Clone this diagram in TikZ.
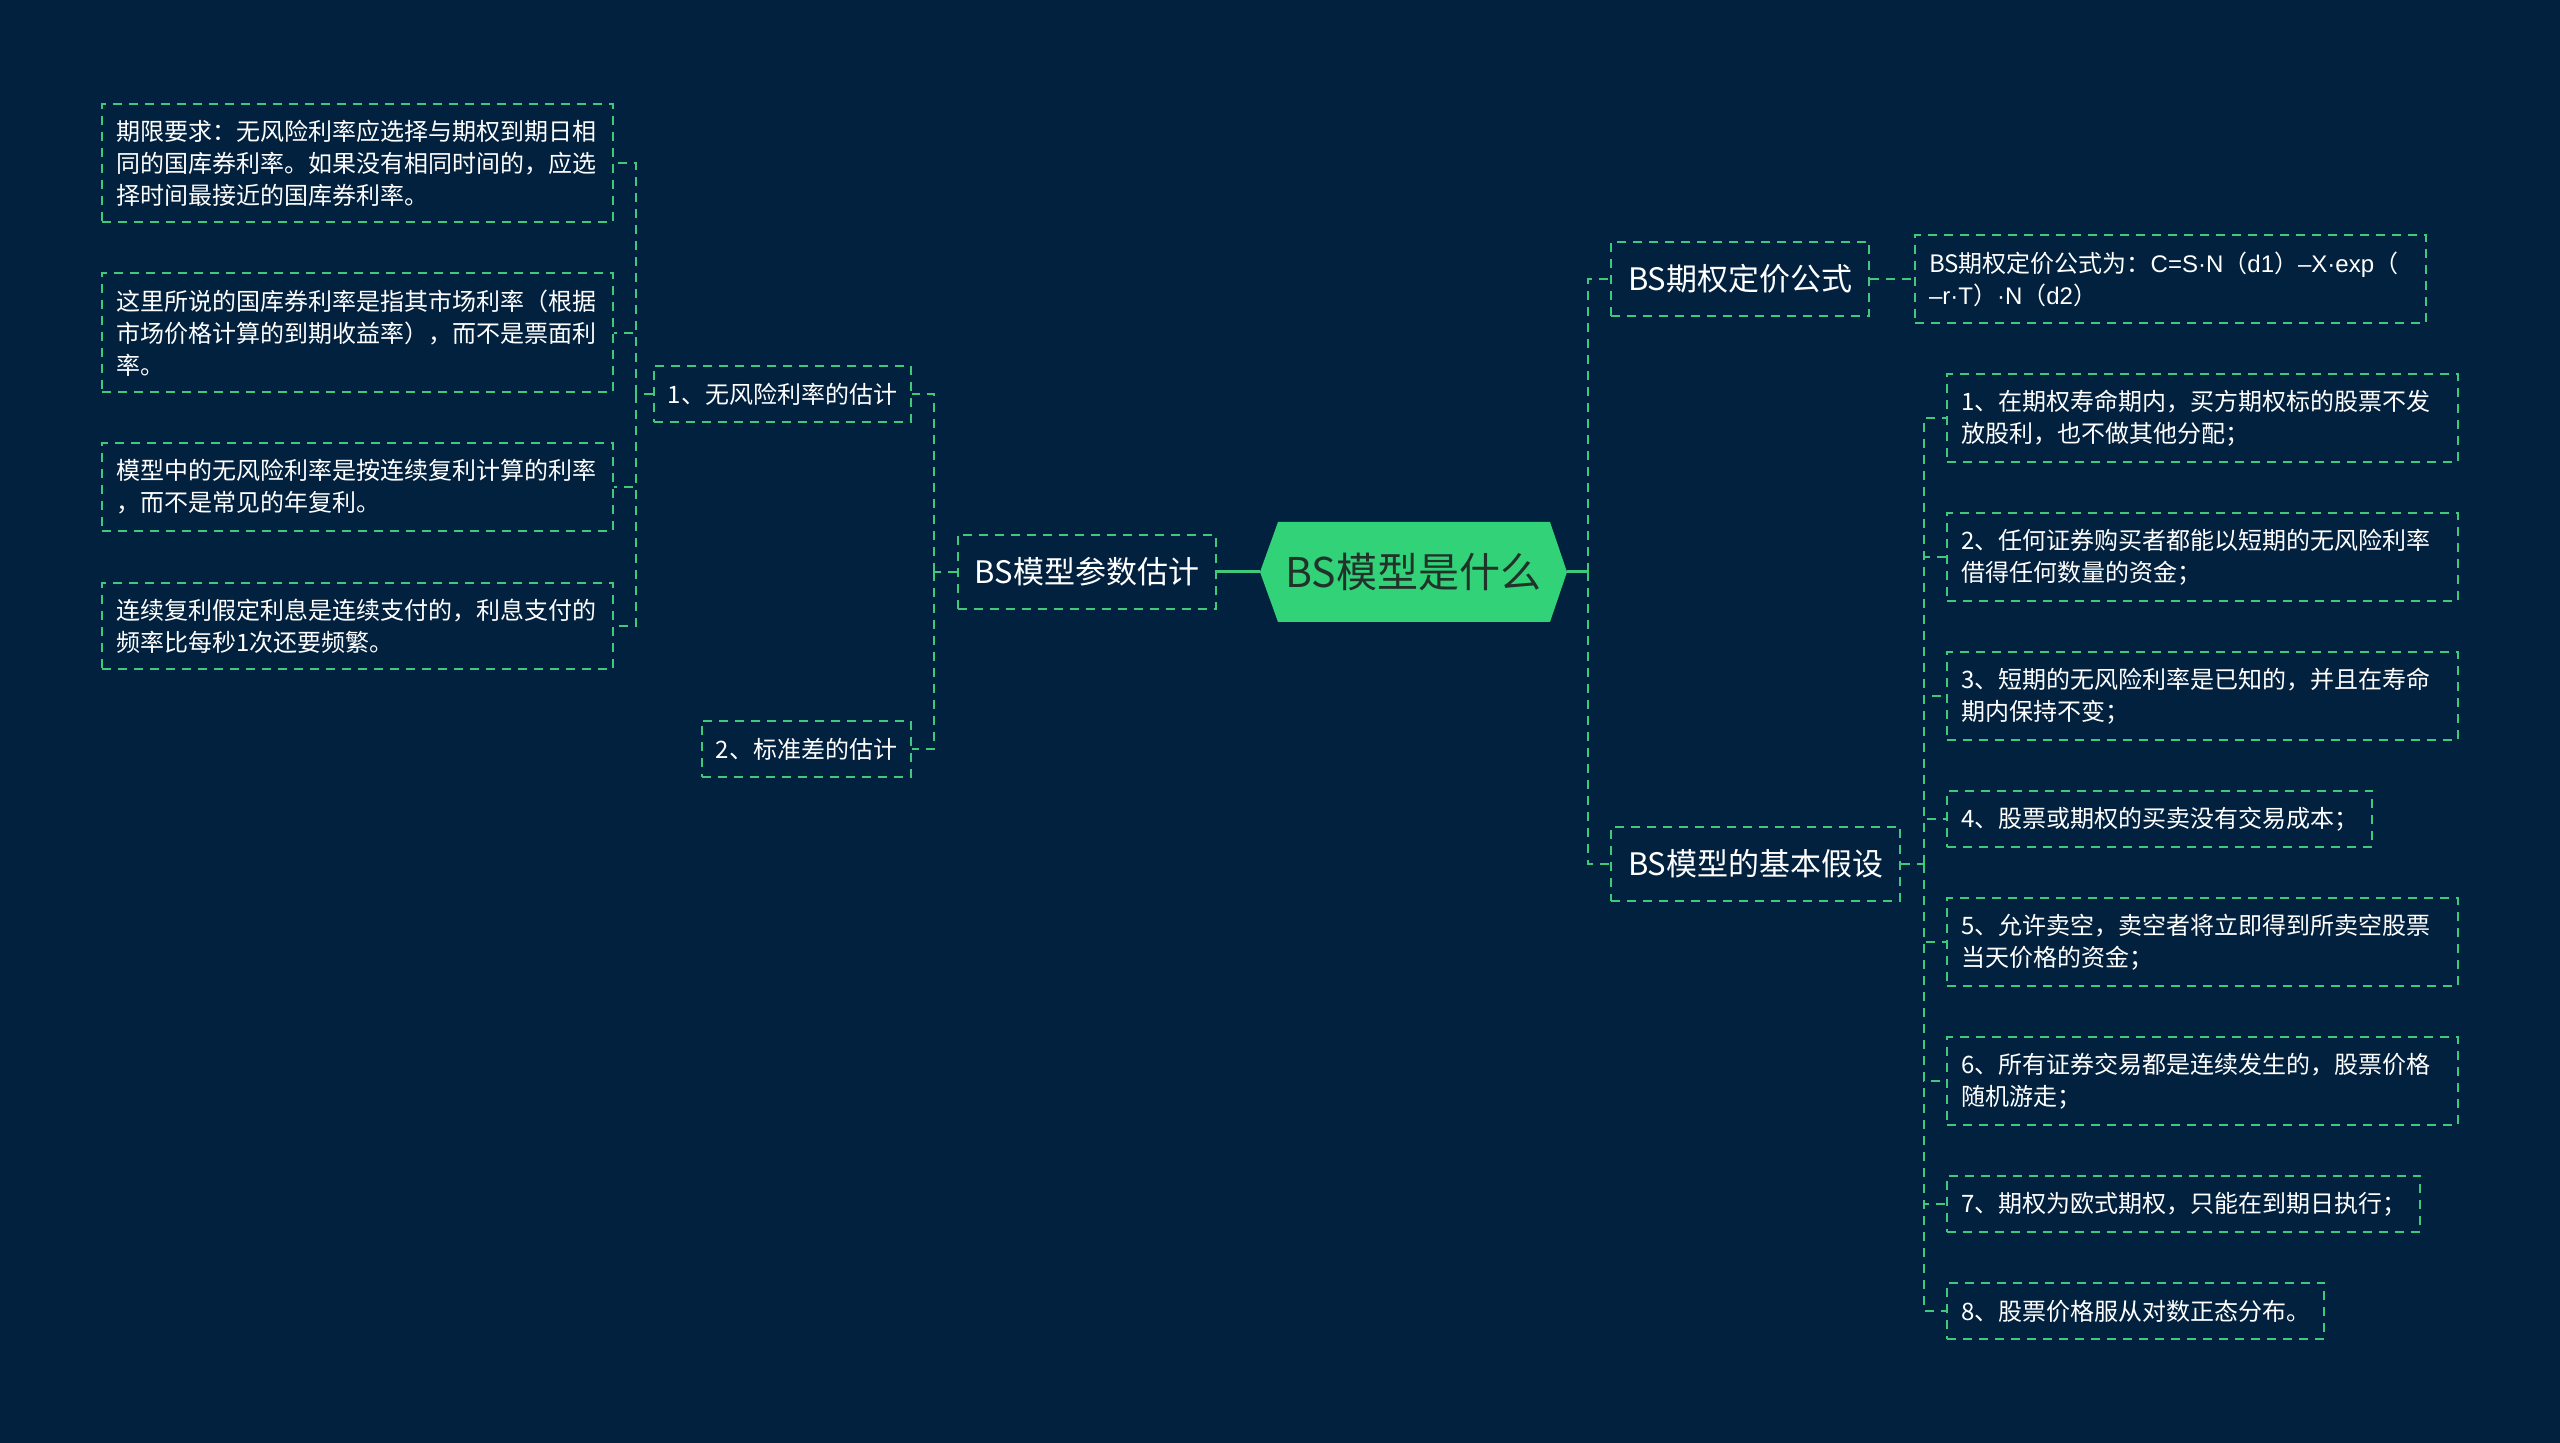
\documentclass[tikz,border=0pt]{standalone}
\usepackage{fontspec}
\setmainfont{Noto Sans CJK SC}
\newfontfamily\latinfont{Liberation Sans}
\usepackage{tikz}
\definecolor{bgnavy}{RGB}{2,33,62}
\definecolor{linegreen}{RGB}{64,201,124}
\definecolor{rootgreen}{RGB}{50,210,120}
\definecolor{roottext}{RGB}{33,50,42}

\begin{document}
\begin{tikzpicture}[x=0.5pt,y=-0.5pt,
  box/.style={draw=linegreen,line width=1pt,dash pattern=on 4.5pt off 3.5pt,text=white,inner xsep=7pt,inner ysep=0pt,font=\fontsize{12pt}{16pt}\selectfont},
  note/.style={box,text width=241.5pt,align=left},
  item/.style={box,minimum height=28pt},
  topic/.style={box,inner xsep=8.5pt,minimum height=37pt,font=\fontsize{15.5pt}{18pt}\selectfont},
  link/.style={linegreen,line width=1pt,dash pattern=on 4.5pt off 3.5pt},
  trunk/.style={linegreen,line width=1.5pt}]
\fill[bgnavy] (0,0) rectangle (2560,1443);
\useasboundingbox (0,0) rectangle (2560,1443);

\fill[rootgreen] (1260,572) -- (1278,522) -- (1550,522) -- (1567,572) -- (1550,622) -- (1278,622) -- cycle;
\node[text=roottext,font=\fontsize{20.5pt}{24pt}\selectfont,minimum width=153.5pt,minimum height=50pt,inner sep=0pt] (root) at (1413.5,572) {BS模型是什么};

\node[topic,anchor=east] (param) at (1217,572) {BS模型参数估计};
\node[item,anchor=east] (est1) at (912,394) {1、无风险利率的估计};
\node[item,anchor=east] (est2) at (912,749) {2、标准差的估计};
\node[note,minimum height=59pt,anchor=east] (r1) at (614,163) {期限要求：无风险利率应选择与期权到期日相\\同的国库券利率。如果没有相同时间的，应选\\择时间最接近的国库券利率。};
\node[note,minimum height=59.5pt,anchor=east] (r2) at (614,333) {这里所说的国库券利率是指其市场利率（根据\\市场价格计算的到期收益率），而不是票面利\\率。};
\node[note,minimum height=44pt,anchor=east] (r3) at (614,487) {模型中的无风险利率是按连续复利计算的利率\\，而不是常见的年复利。};
\node[note,minimum height=43pt,anchor=east] (r4) at (614,626) {连续复利假定利息是连续支付的，利息支付的\\频率比每秒1次还要频繁。};

\node[topic,anchor=west] (pricing) at (1610,279) {BS期权定价公式};
\node[note,minimum height=44pt,anchor=west] (formula) at (1914,279) {\mbox{BS期权定价公式为：{\latinfont C=S·N}（{\latinfont d1}）{\latinfont –X·exp}（}\\\mbox{{\latinfont –r·T}）{\latinfont ·N}（{\latinfont d2}）}};
\node[topic,anchor=west] (assume) at (1610,864) {BS模型的基本假设};
\node[note,minimum height=44pt,anchor=west] (a1) at (1946,418) {1、在期权寿命期内，买方期权标的股票不发\\放股利，也不做其他分配；};
\node[note,minimum height=44pt,anchor=west] (a2) at (1946,557) {2、任何证券购买者都能以短期的无风险利率\\借得任何数量的资金；};
\node[note,minimum height=44pt,anchor=west] (a3) at (1946,696) {3、短期的无风险利率是已知的，并且在寿命\\期内保持不变；};
\node[item,anchor=west] (a4) at (1946,819) {4、股票或期权的买卖没有交易成本；};
\node[note,minimum height=44pt,anchor=west] (a5) at (1946,942) {5、允许卖空，卖空者将立即得到所卖空股票\\当天价格的资金；};
\node[note,minimum height=44pt,anchor=west] (a6) at (1946,1081) {6、所有证券交易都是连续发生的，股票价格\\随机游走；};
\node[item,anchor=west] (a7) at (1946,1204) {7、期权为欧式期权，只能在到期日执行；};
\node[item,anchor=west] (a8) at (1946,1311) {8、股票价格服从对数正态分布。};

\coordinate (lj) at (934,572);
\coordinate (ej) at (636,394);
\coordinate (rj) at (1588,572);
\coordinate (aj) at (1924,864);

\draw[trunk] (root.west) -- (param.east);
\draw[trunk] (root.east) -- (rj);
\draw[link] (param.west) -- (lj);
\foreach \n in {est1,est2} \draw[link] (lj) |- (\n.east);
\draw[link] (est1.west) -- (ej);
\foreach \n in {r1,r2,r3,r4} \draw[link] (ej) |- (\n.east);
\foreach \n in {pricing,assume} \draw[link] (rj) |- (\n.west);
\draw[link] (pricing.east) -- (formula.west);
\draw[link] (assume.east) -- (aj);
\foreach \i in {1,...,8} \draw[link] (aj) |- (a\i.west);
\end{tikzpicture}
\end{document}
